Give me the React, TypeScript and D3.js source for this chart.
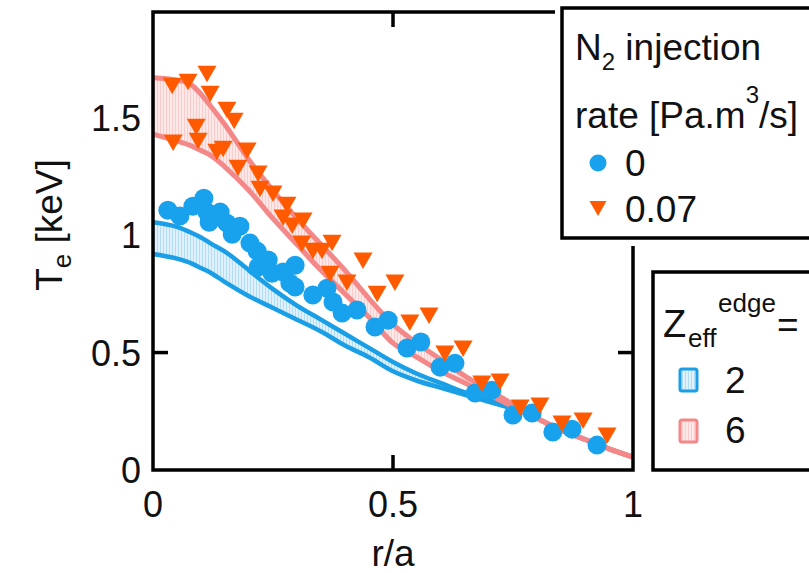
import React from 'react';
import * as d3 from 'd3';

// Simulation band grid (r/a) and band edges [keV]
const bandR = [0, 0.05, 0.08, 0.1, 0.12, 0.15, 0.2, 0.25, 0.3, 0.35, 0.4, 0.45, 0.5, 0.55, 0.6, 0.65, 0.7, 0.75, 0.8, 0.85, 0.9, 0.95, 1.0];
const z6Upper = [1.67, 1.66, 1.64, 1.6, 1.55, 1.47, 1.32, 1.19, 1.07, 0.96, 0.85, 0.73, 0.62, 0.54, 0.47, 0.4, 0.34, 0.28, 0.22, 0.17, 0.13, 0.09, 0.055];
const z6Lower = [1.43, 1.4, 1.38, 1.36, 1.34, 1.29, 1.19, 1.07, 0.96, 0.85, 0.75, 0.65, 0.54, 0.48, 0.42, 0.37, 0.32, 0.27, 0.22, 0.17, 0.13, 0.09, 0.055];
const z2Upper = [1.055, 1.035, 1.01, 0.99, 0.965, 0.93, 0.85, 0.77, 0.7, 0.64, 0.58, 0.52, 0.46, 0.41, 0.37, 0.33, 0.3, 0.27, 0.22, 0.17, 0.13, 0.09, 0.055];
const z2Lower = [0.92, 0.9, 0.88, 0.86, 0.84, 0.8, 0.74, 0.69, 0.64, 0.59, 0.53, 0.48, 0.42, 0.38, 0.35, 0.32, 0.29, 0.26, 0.22, 0.17, 0.13, 0.09, 0.055];

// Measured Te, N2 rate = 0 (circles)
const blueR = [0.031, 0.056, 0.083, 0.106, 0.1125, 0.117, 0.14, 0.154, 0.181, 0.165, 0.202, 0.217, 0.219, 0.24, 0.248, 0.271, 0.285, 0.296, 0.296, 0.333, 0.3625, 0.375, 0.394, 0.425, 0.4625, 0.49, 0.529, 0.558, 0.598, 0.629, 0.671, 0.706, 0.75, 0.79, 0.833, 0.873, 0.925];
const blueT = [1.106, 1.081, 1.123, 1.157, 1.098, 1.055, 1.098, 1.051, 1.038, 1.004, 0.966, 0.932, 0.864, 0.894, 0.838, 0.843, 0.796, 0.872, 0.779, 0.745, 0.774, 0.715, 0.668, 0.681, 0.609, 0.638, 0.519, 0.545, 0.438, 0.455, 0.328, 0.34, 0.234, 0.243, 0.162, 0.174, 0.106];

// Measured Te, N2 rate = 0.07 (triangles)
const orangeR = [0.04, 0.073, 0.1125, 0.119, 0.154, 0.169, 0.09, 0.042, 0.094, 0.133, 0.146, 0.196, 0.177, 0.219, 0.223, 0.25, 0.279, 0.271, 0.29, 0.3125, 0.31, 0.333, 0.352, 0.373, 0.369, 0.404, 0.4375, 0.467, 0.504, 0.535, 0.575, 0.608, 0.646, 0.685, 0.723, 0.765, 0.806, 0.852, 0.896, 0.946];
const orangeT = [1.638, 1.655, 1.689, 1.604, 1.536, 1.489, 1.464, 1.396, 1.404, 1.357, 1.37, 1.362, 1.289, 1.264, 1.2, 1.179, 1.132, 1.077, 1.043, 1.064, 0.966, 0.936, 0.936, 0.97, 0.838, 0.8, 0.894, 0.753, 0.8, 0.63, 0.66, 0.498, 0.519, 0.37, 0.379, 0.268, 0.277, 0.2, 0.213, 0.149];

const xTicks = [0, 0.5, 1];
const xTickLabels = ['0', '0.5', '1'];
const yTicks = [0, 0.5, 1, 1.5];
const yTickLabels = ['0', '0.5', '1', '1.5'];

const BLUE = '#18a2ee';
const BLUE_LINE = '#1a9fe6';
const ORANGE = '#ff5a00';
const PINK = '#f48888';
const FONT = '"Liberation Sans", Arial, Helvetica, sans-serif';

export default function App() {
  const W = 809;
  const H = 573;
  const x = d3.scaleLinear().domain([0, 1]).range([153, 633]);
  const y = d3.scaleLinear().domain([0, 1.95]).range([470, 12]);

  const idx = bandR.map((_, i) => i);
  const area = (lo: number[], hi: number[]) =>
    d3.area<number>().x((i) => x(bandR[i])).y0((i) => y(lo[i])).y1((i) => y(hi[i])).curve(d3.curveMonotoneX)(idx) || '';
  const line = (v: number[]) =>
    d3.line<number>().x((i) => x(bandR[i])).y((i) => y(v[i])).curve(d3.curveMonotoneX)(idx) || '';

  const tri = 'M -9.5 -7.5 L 9.5 -7.5 L 0 9 Z';
  const [x0, x1] = x.range();
  const [y0, y1] = y.range();

  return (
    <svg width={W} height={H} style={{ position: 'absolute', left: 0, top: 0, background: '#fff' }} fontFamily={FONT}>
      <defs>
        <pattern id="hPink" patternUnits="userSpaceOnUse" width="3" height="3">
          <rect width="3" height="3" fill="#fde8e8" />
          <rect x="1" width="1" height="3" fill="#f9cdcd" />
        </pattern>
        <pattern id="hBlue" patternUnits="userSpaceOnUse" width="3" height="3">
          <rect width="3" height="3" fill="#def1fc" />
          <rect x="1" width="1" height="3" fill="#b3ddf5" />
        </pattern>
      </defs>
      <rect width={W} height={H} fill="#fff" />

      {/* ticks (under data) */}
      <g stroke="#000" strokeWidth={3.5}>
        {yTicks.filter((t) => t > 0).map((t) => (
          <g key={'yt' + t}>
            <line x1={x0} x2={x0 + 15} y1={y(t)} y2={y(t)} />
            <line x1={x1} x2={x1 - 15} y1={y(t)} y2={y(t)} />
          </g>
        ))}
        {xTicks.filter((t) => t > 0 && t < 1).map((t) => (
          <g key={'xt' + t}>
            <line x1={x(t)} x2={x(t)} y1={y0} y2={y0 - 15} />
            <line x1={x(t)} x2={x(t)} y1={y1} y2={y1 + 15} />
          </g>
        ))}
      </g>

      {/* Zeff = 2 band */}
      <path d={area(z2Lower, z2Upper)} fill="url(#hBlue)" />
      <path d={line(z2Upper)} fill="none" stroke={BLUE_LINE} strokeWidth={4.5} />
      <path d={line(z2Lower)} fill="none" stroke={BLUE_LINE} strokeWidth={4.5} />

      {/* Zeff = 6 band */}
      <path d={area(z6Lower, z6Upper)} fill="url(#hPink)" />
      <path d={line(z6Upper)} fill="none" stroke={PINK} strokeWidth={5} />
      <path d={line(z6Lower)} fill="none" stroke={PINK} strokeWidth={5} />

      {/* measurements */}
      {blueR.map((r, i) => (
        <circle key={'b' + i} cx={x(r)} cy={y(blueT[i])} r={9.5} fill={BLUE} />
      ))}
      {orangeR.map((r, i) => (
        <path key={'o' + i} d={tri} transform={`translate(${x(r)},${y(orangeT[i])})`} fill={ORANGE} />
      ))}

      {/* frame */}
      <rect x={x0} y={y1} width={x1 - x0} height={y0 - y1} fill="none" stroke="#000" strokeWidth={3.5} />

      {/* tick labels */}
      <g fontSize={36} fill="#111">
        {yTicks.map((t, i) => (
          <text key={'yl' + t} x={141} y={y(t) + 13} textAnchor="end">{yTickLabels[i]}</text>
        ))}
        {xTicks.map((t, i) => (
          <text key={'xl' + t} x={x(t)} y={517} textAnchor="middle">{xTickLabels[i]}</text>
        ))}
      </g>

      {/* axis titles */}
      <text x={x(0.5)} y={566} fontSize={37} textAnchor="middle" fill="#111">r/a</text>
      <text transform={`translate(62,${225}) rotate(-90)`} fontSize={37} textAnchor="middle" fill="#111">
        T<tspan dy={9} fontSize={26}>e</tspan><tspan dy={-9}> [keV]</tspan>
      </text>

      {/* legend 1 */}
      <rect x={555} y={0} width={260} height={246} fill="#fff" />
      <rect x={562} y={8} width={260} height={230} fill="#fff" stroke="#000" strokeWidth={3.5} />
      <g fontSize={37} fill="#111">
        <text x={575} y={60}>N<tspan dy={10} fontSize={24}>2</tspan><tspan dy={-10}> injection</tspan></text>
        <text x={575} y={128}>rate [Pa.m<tspan dy={-25} fontSize={24}>3</tspan><tspan dy={25}>/s]</tspan></text>
        <text x={625} y={176}>0</text>
        <text x={625} y={222}>0.07</text>
      </g>
      <circle cx={598} cy={163} r={8.5} fill={BLUE} />
      <path d="M -8.5 -7 L 8.5 -7 L 0 8 Z" transform="translate(598,208)" fill={ORANGE} />

      {/* legend 2 */}
      <rect x={647} y={266} width={170} height={210} fill="#fff" />
      <rect x={653} y={272} width={170} height={198} fill="#fff" stroke="#000" strokeWidth={3.5} />
      <g fill="#111">
        <text x={663} y={337} fontSize={38}>Z</text>
        <text x={688} y={347} fontSize={26}>eff</text>
        <text x={718} y={312} fontSize={26}>edge</text>
        <text x={777} y={337} fontSize={37}>=</text>
        <text x={725} y={393} fontSize={37}>2</text>
        <text x={725} y={443} fontSize={37}>6</text>
      </g>
      <rect x={680} y={369} width={17} height={22} rx={2} fill="url(#hBlue)" stroke={BLUE_LINE} strokeWidth={3} />
      <rect x={680} y={420} width={17} height={22} rx={2} fill="url(#hPink)" stroke={PINK} strokeWidth={3} />
    </svg>
  );
}
